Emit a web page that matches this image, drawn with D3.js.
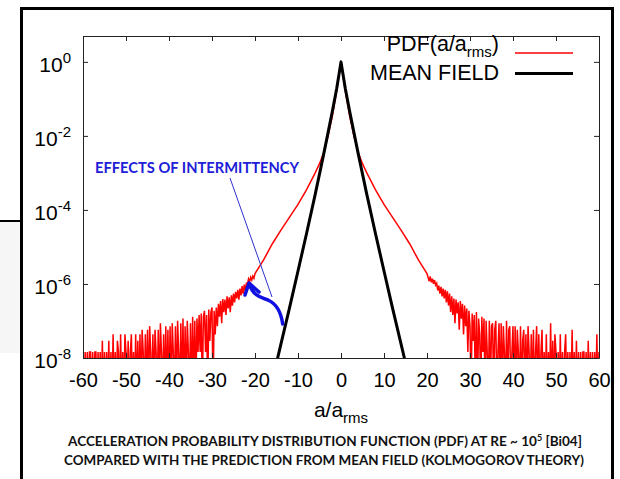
<!DOCTYPE html>
<html><head><meta charset="utf-8">
<script src="https://cdn.jsdelivr.net/npm/d3@7"></script>
<style>html,body{margin:0;padding:0;background:#fff;} svg{display:block;}</style>
</head><body>
<script>
// ---------- data ----------
const xTicks = [-60,-50,-40,-30,-20,-10,0,10,20,30,40,50,60];
const yTickExponents = [0,-2,-4,-6,-8];

// histogram tails: counts per bin (bin width 0.25), probability per single count
const countUnit = 1.45e-8;
const tailStep = 0.25;
const leftTailStart = -60;
const leftTailCounts = [
  1,0,1,0,1,0,1,1,0,1,0,1,1,0,1,0,1,0,2,0,1,
  0,1,0,2,0,1,0,3,0,1,0,2,1,0,3,0,1,0,3,1,0,2,0,1,3,0,1,0,3,0,2,0,
  3,0,4,1,0,3,0,4,0,5,1,0,3,0,4,1,0,4,0,6,1,0,3,0,5,0,4,0,
  5,0,6,1,0,5,0,7,1,0,6,0,8,0,5,0,7,1,0,6,0,9,0,7,0,8,1,10,
  1,11,0,9,13,1,10,0,14,2,12,16,0,13,3,16,
  5,20,9,24,6,27,12,26,10,32,15,30,12,34,18,38,
  22,42,28,48,26,52,34,60,38,66,45,72,
  70,95,80,105,88,112,98
];
const rightTailStart = 20.25;
const rightTailCounts = [
  105,82,110,76,96,70,88,64,
  72,46,62,38,58,32,52,28,48,22,44,18,
  38,12,32,10,28,6,26,11,22,4,24,8,20,3,18,5,
  15,1,13,5,0,11,2,10,0,12,0,8,3,0,9,1,
  8,0,7,1,0,7,0,5,6,0,4,7,0,1,6,0,6,0,5,1,0,7,0,4,5,0,1,5,
  0,5,0,4,1,0,5,0,2,4,0,3,0,5,1,0,3,0,4,0,1,5,0,3,0,1,4,0,
  1,0,3,0,1,0,6,0,2,0,3,1,0,1,0,3,0,1,0,1,3,0,1,0,1,0,4,0,1,0,2,0,
  1,0,1,0,1,1,0,1,0,2,0,1,0,1,0,1,0,3,0,1
];
// smooth central part of the PDF (log10 of probability)
const coreX     = [-20,-18,-16,-14,-12,-10,-8,-6,-5,-4,-3,-2,-1,-0.5,0,0.5,1,2,3,4,5,6,8,10,12,14,16,18,20];
const coreLog10 = [-5.72,-5.35,-4.92,-4.55,-4.20,-3.85,-3.45,-3.00,-2.75,-2.45,-2.00,-1.45,-0.78,-0.40,0,
                   -0.40,-0.78,-1.45,-2.00,-2.45,-2.75,-3.00,-3.45,-3.85,-4.20,-4.55,-4.92,-5.35,-5.72];
// mean field (Kolmogorov) prediction, log10 of probability
const meanFieldX     = [-15,-14,-12,-10,-8,-6,-4,-2,-1,0,1,2,4,6,8,10,12,14,15];
const meanFieldLog10 = [-8.13,-7.64,-6.66,-5.65,-4.63,-3.58,-2.48,-1.33,-0.72,0,-0.72,-1.33,-2.48,-3.58,-4.63,-5.65,-6.66,-7.64,-8.13];

// ---------- chart ----------
const W = 620, H = 479;
const svg = d3.select('body').append('svg').attr('width', W).attr('height', H);
const FONT = '"Liberation Sans", Arial, Helvetica, sans-serif';

// background decorations
svg.append('rect').attr('x',0).attr('y',222).attr('width',20).attr('height',131).attr('fill','#f6f6f6');
svg.append('line').attr('x1',0).attr('x2',21).attr('y1',221).attr('y2',221).attr('stroke','#000').attr('stroke-width',2);
svg.append('rect').attr('x',21.5).attr('y',8.5).attr('width',591).attr('height',500)
   .attr('fill','none').attr('stroke','#000').attr('stroke-width',3);

const m = {l:83, r:599, t:36, b:358};
const x = d3.scaleLinear().domain([-60,60]).range([m.l, m.r]);
const y = d3.scaleLog().domain([1e-8, 5]).range([m.b, m.t]);

svg.append('clipPath').attr('id','clip').append('rect')
   .attr('x', m.l).attr('y', m.t).attr('width', m.r-m.l).attr('height', m.b-m.t);

// red PDF series
const redPts = [];
leftTailCounts.forEach((c,i) => redPts.push([leftTailStart + i*tailStep, c > 0 ? c*countUnit : 1e-9]));
coreX.forEach((v,i) => redPts.push([v, Math.pow(10, coreLog10[i])]));
rightTailCounts.forEach((c,i) => redPts.push([rightTailStart + i*tailStep, c > 0 ? c*countUnit : 1e-9]));
const meanPts = meanFieldX.map((v,i) => [v, Math.pow(10, meanFieldLog10[i])]);

const line = d3.line().x(d => x(d[0])).y(d => y(d[1]));
const g = svg.append('g').attr('clip-path','url(#clip)');
g.append('path').datum(redPts).attr('d', line).attr('fill','none').attr('stroke','#ff0000').attr('stroke-width',1.5);
g.append('path').datum(meanPts).attr('d', line).attr('fill','none').attr('stroke','#000').attr('stroke-width',3).attr('stroke-linejoin','round');

// axes
const axStyle = sel => { sel.selectAll('path,line').attr('stroke','#222').attr('stroke-width',1);
                         sel.selectAll('text').attr('font-family',FONT).attr('font-size',20).attr('fill','#000'); };
svg.append('g').attr('transform',`translate(0,${m.b})`)
   .call(d3.axisBottom(x).tickValues(xTicks).tickSize(-5).tickSizeOuter(0).tickPadding(15).tickFormat(d => String(d)))
   .call(axStyle);
svg.append('g').attr('transform',`translate(0,${m.t})`)
   .call(d3.axisTop(x).tickValues(xTicks).tickSize(-5).tickSizeOuter(0).tickFormat(''))
   .call(axStyle);
const yVals = yTickExponents.map(e => Math.pow(10, e));
svg.append('g').attr('transform',`translate(${m.l},0)`)
   .call(d3.axisLeft(y).tickValues(yVals).tickSize(-5).tickSizeOuter(0).tickFormat(''))
   .call(axStyle);
svg.append('g').attr('transform',`translate(${m.r},0)`)
   .call(d3.axisRight(y).tickValues(yVals).tickSize(-5).tickSizeOuter(0).tickFormat(''))
   .call(axStyle);

// y tick labels 10^n
yTickExponents.forEach(e => {
  const t = svg.append('text').attr('x', 71).attr('y', y(Math.pow(10,e)) + 10)
    .attr('text-anchor','end').attr('font-family',FONT).attr('font-size',21);
  t.append('tspan').text('10');
  t.append('tspan').attr('dy',-9).attr('font-size',15).text(String(e));
});

// x axis title
const xt = svg.append('text').attr('x', x(0)).attr('y', 417).attr('text-anchor','middle')
  .attr('font-family',FONT).attr('font-size',21);
xt.append('tspan').text('a/a');
xt.append('tspan').attr('dy',6).attr('font-size',15).text('rms');

// legend
const lg1 = svg.append('text').attr('x',499).attr('y',51).attr('text-anchor','end').attr('font-family',FONT).attr('font-size',21.5);
lg1.append('tspan').text('PDF(a/a');
lg1.append('tspan').attr('dy',6).attr('font-size',15).text('rms');
lg1.append('tspan').attr('dy',-6).text(')');
svg.append('line').attr('x1',515).attr('x2',573).attr('y1',53).attr('y2',53).attr('stroke','#ff0000').attr('stroke-width',1.5);
svg.append('text').attr('x',499).attr('y',80).attr('text-anchor','end').attr('font-family',FONT).attr('font-size',21.5).text('MEAN FIELD');
svg.append('line').attr('x1',515).attr('x2',573).attr('y1',73.5).attr('y2',73.5).attr('stroke','#000').attr('stroke-width',3);

// annotation
const CAL = 'Lato, "Open Sans", sans-serif';
svg.append('text').attr('x',95).attr('y',172.5).attr('font-family',CAL).attr('font-weight',700).attr('font-size',15)
   .attr('fill','#2020d8').attr('textLength',204).attr('lengthAdjust','spacingAndGlyphs').text('EFFECTS OF INTERMITTENCY');
svg.append('line').attr('x1',230).attr('y1',178).attr('x2',272).attr('y2',297).attr('stroke','#3030d0').attr('stroke-width',1);
svg.append('path').attr('d','M282.7,324 C281,312 277,304 268,300 C259,297 252,294 249.5,284')
   .attr('fill','none').attr('stroke','#1010e0').attr('stroke-width',3.5).attr('stroke-linecap','round');
svg.append('path').attr('d','M245,295 L249,283 L259,292')
   .attr('fill','none').attr('stroke','#1010e0').attr('stroke-width',3.5).attr('stroke-linecap','round').attr('stroke-linejoin','round');

// caption
const c1 = svg.append('text').attr('x',68).attr('y',446).attr('font-family',CAL).attr('font-weight',700).attr('font-size',13.5)
   .attr('fill','#111').attr('textLength',514).attr('lengthAdjust','spacingAndGlyphs');
c1.append('tspan').text('ACCELERATION PROBABILITY DISTRIBUTION FUNCTION (PDF) AT RE ~ 10');
c1.append('tspan').attr('dy',-5).attr('font-size',9).text('5');
c1.append('tspan').attr('dy',5).text(' [Bi04]');
svg.append('text').attr('x',64).attr('y',465).attr('font-family',CAL).attr('font-weight',700).attr('font-size',13.5)
   .attr('fill','#111').attr('textLength',520).attr('lengthAdjust','spacingAndGlyphs')
   .text('COMPARED WITH THE PREDICTION FROM MEAN FIELD (KOLMOGOROV THEORY)');
</script>
</body></html>
